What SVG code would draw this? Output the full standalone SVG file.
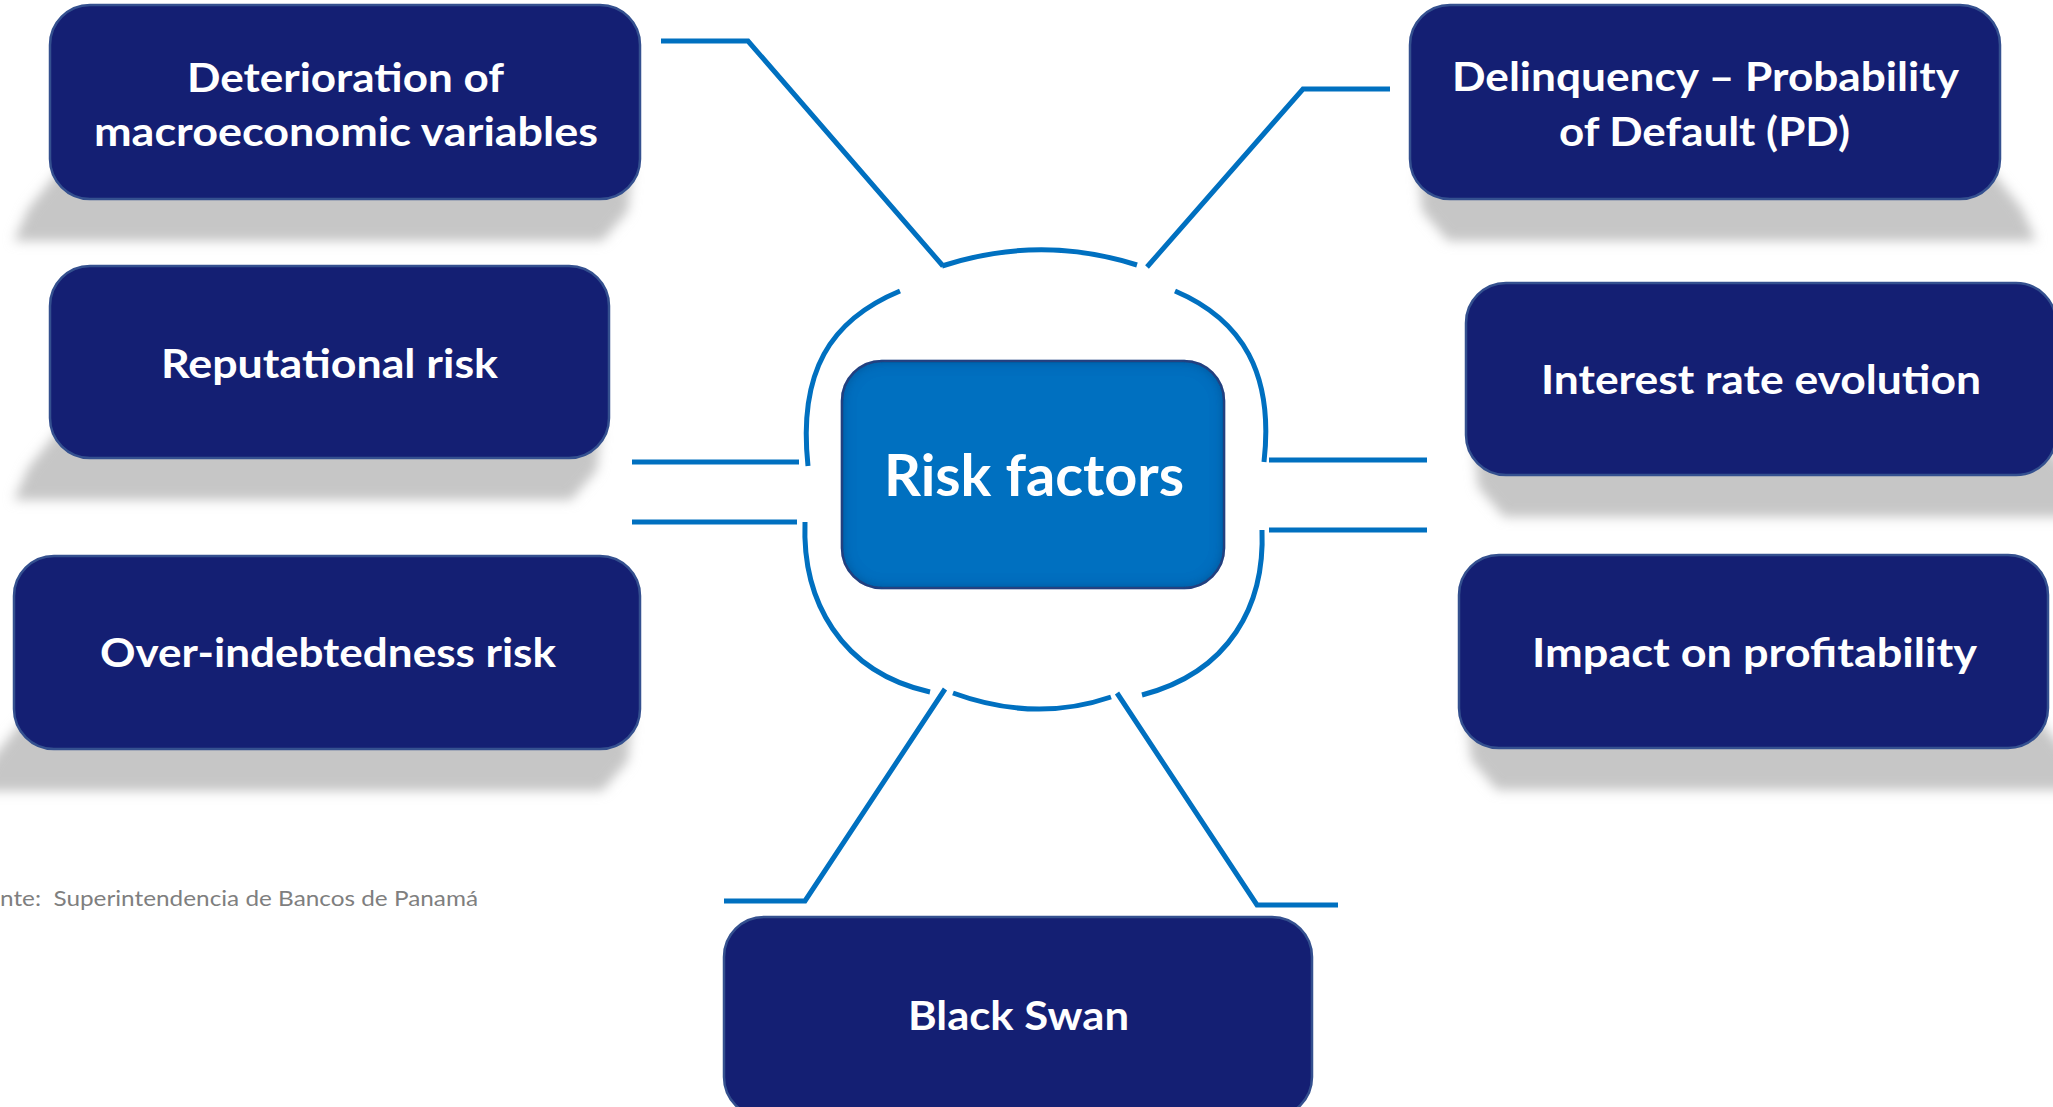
<svg xmlns="http://www.w3.org/2000/svg" width="2053" height="1107" viewBox="0 0 2053 1107">
  <style>
    .node rect { fill: #141f73; stroke: #34508f; stroke-width: 2.5; }
    .label { font-family: Lato, "Open Sans", "Liberation Sans", sans-serif; font-weight: 700; font-size: 40px; fill: #ffffff; }
    .hub-label { font-size: 58px; }
    .shadow { fill: #c6c6c6; filter: url(#soft); }
    .link { fill: none; stroke: #0070c0; stroke-width: 5; stroke-linejoin: miter; }
    .note { font-family: Lato, "Open Sans", "Liberation Sans", sans-serif; font-size: 21px; fill: #7f7f7f; }
  </style>
  <defs>
    <filter id="soft" x="-10%" y="-50%" width="120%" height="200%">
      <feGaussianBlur stdDeviation="6"/>
    </filter>
    <!-- inset shading for the hub box -->
    <filter id="inset" x="-5%" y="-5%" width="110%" height="110%">
      <feFlood flood-color="#0b2f66" flood-opacity="0.75" result="c"/>
      <feComposite in="c" in2="SourceAlpha" operator="out" result="ring"/>
      <feGaussianBlur in="ring" stdDeviation="7" result="blur"/>
      <feComposite in="blur" in2="SourceAlpha" operator="in" result="inner"/>
      <feMerge>
        <feMergeNode in="SourceGraphic"/>
        <feMergeNode in="inner"/>
      </feMerge>
    </filter>
  </defs>

  <rect width="2053" height="1107" fill="#ffffff"/>

  <!-- ground shadows under the factor boxes -->
  <g id="shadows">
    <path class="shadow" d="M 60,169 L 632,169 L 628,211 L 602,241 L 14,241 L 28,209 Z"/>
    <path class="shadow" d="M 60,428 L 601,428 L 597,470 L 571,500 L 14,500 L 28,468 Z"/>
    <path class="shadow" d="M 24,719 L 632,719 L 628,761 L 602,791 L -22,791 L -8,759 Z"/>
    <path class="shadow" d="M 1418,169 L 1990,169 L 2022,209 L 2036,241 L 1448,241 L 1422,211 Z"/>
    <path class="shadow" d="M 1474,445 L 2046,445 L 2078,485 L 2092,517 L 1504,517 L 1478,487 Z"/>
    <path class="shadow" d="M 1467,718 L 2038,718 L 2070,758 L 2084,790 L 1497,790 L 1471,760 Z"/>
  </g>

  <!-- connectors and the broken ring around the hub -->
  <g id="connectors">
    <path class="link" d="M 661,41 H 748 L 943,266"/>
    <path class="link" d="M 1390,89 H 1303 L 1147,267"/>
    <path class="link" d="M 632,462 H 799"/>
    <path class="link" d="M 632,522 H 797"/>
    <path class="link" d="M 1269,460 H 1427"/>
    <path class="link" d="M 1269,530 H 1427"/>
    <path class="link" d="M 724,901 H 805 L 945,689"/>
    <path class="link" d="M 1338,905 H 1257 L 1117,693"/>
    <path class="link" d="M 942,266 Q 1040,234 1137,265"/>
    <path class="link" d="M 1175,291 C 1243,320 1274,374 1264,462"/>
    <path class="link" d="M 1262,530 C 1265,605 1230,672 1142,695"/>
    <path class="link" d="M 1111,697 Q 1035,723 953,693"/>
    <path class="link" d="M 930,692 C 840,672 802,600 805,522"/>
    <path class="link" d="M 808,466 C 798,372 830,320 900,291"/>
  </g>

  <g id="hub">
    <rect x="842" y="361" width="382" height="227" rx="40" fill="#0070c0" stroke="#2e4a8b" stroke-width="2.5" filter="url(#inset)"/>
    <text class="label hub-label" x="884" y="496" textLength="300" lengthAdjust="spacingAndGlyphs">Risk factors</text>
  </g>

  <g id="node-macro" class="node">
    <rect x="50" y="5" width="590" height="194" rx="40"/>
    <text class="label" x="187" y="92" textLength="317" lengthAdjust="spacingAndGlyphs">Deterioration of</text>
    <text class="label" x="94" y="146" textLength="504" lengthAdjust="spacingAndGlyphs">macroeconomic variables</text>
  </g>

  <g id="node-reputational" class="node">
    <rect x="50" y="266" width="559" height="192" rx="40"/>
    <text class="label" x="161" y="378" textLength="337" lengthAdjust="spacingAndGlyphs">Reputational risk</text>
  </g>

  <g id="node-overindebtedness" class="node">
    <rect x="14" y="556" width="626" height="193" rx="40"/>
    <text class="label" x="100" y="667" textLength="456" lengthAdjust="spacingAndGlyphs">Over-indebtedness risk</text>
  </g>

  <g id="node-delinquency" class="node">
    <rect x="1410" y="5" width="590" height="194" rx="40"/>
    <text class="label" x="1452" y="91" textLength="507" lengthAdjust="spacingAndGlyphs">Delinquency – Probability</text>
    <text class="label" x="1559" y="146" textLength="291" lengthAdjust="spacingAndGlyphs">of Default (PD)</text>
  </g>

  <g id="node-interest" class="node">
    <rect x="1466" y="283" width="590" height="192" rx="40"/>
    <text class="label" x="1541" y="394" textLength="440" lengthAdjust="spacingAndGlyphs">Interest rate evolution</text>
  </g>

  <g id="node-profitability" class="node">
    <rect x="1459" y="555" width="589" height="193" rx="40"/>
    <text class="label" x="1532" y="667" textLength="445" lengthAdjust="spacingAndGlyphs">Impact on profitability</text>
  </g>

  <g id="node-blackswan" class="node">
    <rect x="724" y="917" width="588" height="200" rx="40"/>
    <text class="label" x="908" y="1030" textLength="221" lengthAdjust="spacingAndGlyphs">Black Swan</text>
  </g>

  <text class="note" x="0" y="906" textLength="478" lengthAdjust="spacingAndGlyphs" xml:space="preserve">nte:  Superintendencia de Bancos de Panamá</text>
</svg>
